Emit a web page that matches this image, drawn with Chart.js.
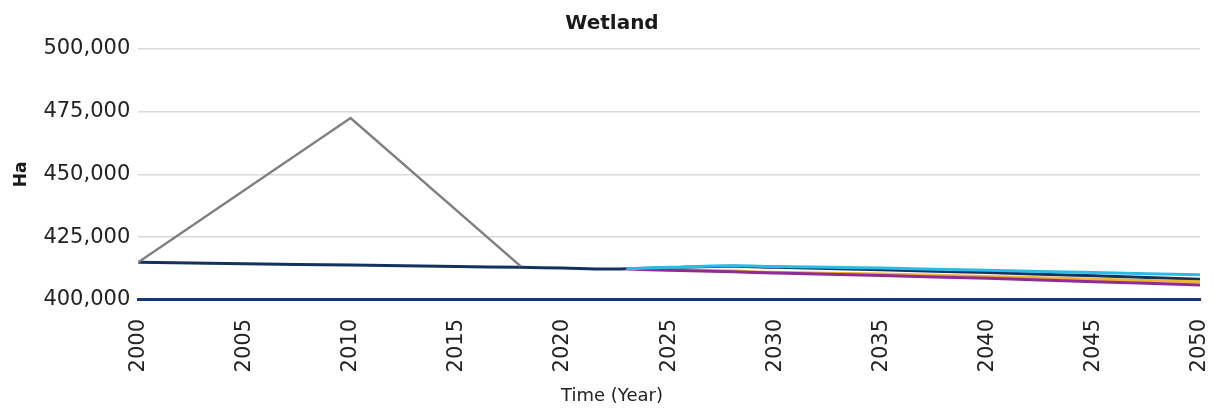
<!DOCTYPE html>
<html>
<head>
<meta charset="utf-8">
<script src="https://cdn.jsdelivr.net/npm/chart.js@4.4.1/dist/chart.umd.min.js"></script>
<style>
  html, body { margin: 0; padding: 0; background: #fff; }
  #wrap { width: 1213px; height: 411px; }
</style>
</head>
<body>
<div id="wrap"><canvas id="wetlandChart"></canvas></div>
<script>
// Wetland area (Ha) by year
const histYears = [2000, 2005, 2010, 2015, 2018, 2020, 2022, 2023];
const histValues = [415000, 414400, 413900, 413300, 413000, 412700, 412300, 412400];

const spikeYears = [2000, 2010, 2018];
const spikeValues = [415000, 472500, 413500];

const scenYears = [2023, 2025, 2028, 2030, 2035, 2040, 2045, 2050];
const cyanValues = [412400, 413000, 413600, 413300, 412700, 411800, 410900, 410000];
const navyValues = [412400, 412900, 413400, 413000, 412000, 410900, 409600, 408300];
const yellowValues = [412400, 412000, 411500, 411000, 410300, 409300, 408300, 407300];
const purpleValues = [412400, 411800, 411200, 410700, 409700, 408600, 407300, 406000];

const yTicks = [400000, 425000, 450000, 475000, 500000];

function pts(xs, ys) {
    return xs.map((x, i) => ({ x: x, y: ys[i] }));
}

const fontFamily = '"DejaVu Sans", sans-serif';

const ctx = document.getElementById('wetlandChart').getContext('2d');
new Chart(ctx, {
    type: 'line',
    data: {
        datasets: [
            { data: pts(spikeYears, spikeValues), borderColor: '#808080', borderWidth: 2.5, tension: 0 },
            { data: pts(scenYears, cyanValues), borderColor: '#2bbbe8', borderWidth: 3, tension: 0.35 },
            { data: pts(scenYears, purpleValues), borderColor: '#8f2b94', borderWidth: 3, tension: 0.35 },
            { data: pts(scenYears, yellowValues), borderColor: '#f0b232', borderWidth: 3, tension: 0.35 },
            { data: pts(scenYears, navyValues), borderColor: '#15325f', borderWidth: 3, tension: 0.35 },
            { data: pts(histYears, histValues), borderColor: '#15325f', borderWidth: 3, tension: 0.3 }
        ]
    },
    options: {
        responsive: true,
        maintainAspectRatio: false,
        animation: false,
        layout: { padding: { left: 11, right: 0, top: 0, bottom: 2 } },
        elements: { point: { radius: 0 } },
        plugins: {
            legend: { display: false },
            tooltip: { enabled: false },
            title: {
                display: true,
                text: 'Wetland',
                color: '#1a1a1a',
                font: { family: fontFamily, size: 20, weight: 'bold' },
                padding: { top: 12, bottom: 13 }
            },
            subtitle: {
                display: true,
                position: 'bottom',
                text: 'Time (Year)',
                color: '#222',
                font: { family: fontFamily, size: 18 },
                padding: { top: 2, bottom: 2 }
            }
        },
        scales: {
            x: {
                type: 'linear',
                min: 2000,
                max: 2050,
                afterFit: scale => { scale.paddingRight = 13; },
                ticks: {
                    stepSize: 5,
                    minRotation: 90,
                    maxRotation: 90,
                    color: '#222',
                    padding: 11,
                    font: { family: fontFamily, size: 21 },
                    callback: v => String(v)
                },
                grid: { display: false },
                border: { display: true, color: '#163a6b', width: 3 }
            },
            y: {
                min: 400000,
                max: 500000,
                afterBuildTicks: axis => { axis.ticks = yTicks.map(v => ({ value: v })); },
                ticks: {
                    color: '#222',
                    padding: 8,
                    font: { family: fontFamily, size: 21 },
                    callback: v => v.toLocaleString('en-US')
                },
                grid: { color: '#d9d9d9', lineWidth: 1.5, drawTicks: false },
                border: { display: false },
                title: {
                    display: true,
                    text: 'Ha',
                    color: '#1a1a1a',
                    font: { family: fontFamily, size: 17, weight: 'bold' },
                    padding: { top: 0, bottom: 4 }
                }
            }
        }
    }
});
</script>
</body>
</html>
